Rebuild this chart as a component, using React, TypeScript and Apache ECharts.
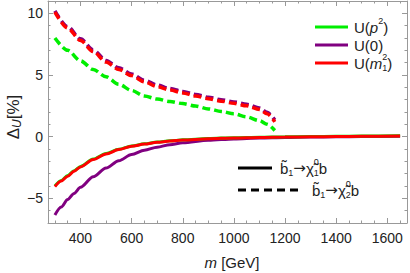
import React, { useEffect, useRef } from 'react';
import * as echarts from 'echarts';

// ---- data ----
const mSolid = [300, 325, 350, 375, 400, 450, 500, 550, 600, 650, 700, 750, 800, 900, 1000, 1100, 1200, 1300, 1400, 1500, 1650];
const solidP2 = [-4.0, -3.55, -3.15, -2.76, -2.41, -1.82, -1.37, -1.03, -0.76, -0.58, -0.44, -0.34, -0.26, -0.15, -0.08, -0.04, -0.01, 0.01, 0.03, 0.05, 0.08];
const solidZero = [-6.35, -5.7, -5.1, -4.6, -4.1, -3.25, -2.55, -1.95, -1.45, -1.1, -0.85, -0.65, -0.5, -0.3, -0.18, -0.1, -0.06, -0.03, -0.01, 0.01, 0.04];
const solidM1 = [-4.05, -3.6, -3.2, -2.8, -2.45, -1.85, -1.4, -1.05, -0.78, -0.6, -0.46, -0.36, -0.28, -0.17, -0.1, -0.06, -0.03, -0.01, 0.01, 0.03, 0.06];

const mDashed = [300, 350, 400, 450, 500, 550, 600, 650, 700, 750, 800, 850, 900, 950, 1000, 1050, 1100, 1130, 1160];
const dashedP2 = [8.0, 7.0, 6.15, 5.45, 4.85, 4.25, 3.75, 3.3, 3.05, 2.85, 2.68, 2.48, 2.25, 2.05, 1.85, 1.6, 1.3, 1.0, 0.5];
const dashedZero = [10.2, 8.92, 7.93, 7.03, 6.18, 5.58, 5.08, 4.58, 4.18, 3.9, 3.67, 3.42, 3.2, 3.0, 2.82, 2.62, 2.33, 1.98, 1.35];
const dashedM1 = [10.1, 8.8, 7.8, 6.9, 6.05, 5.45, 4.95, 4.45, 4.05, 3.78, 3.55, 3.3, 3.08, 2.88, 2.7, 2.5, 2.2, 1.85, 1.2];

const xRange = [273, 1677];
const yRange = [-7, 11];
const xTickStep = 200;

const GREEN = '#00ee00';
const PURPLE = '#800080';
const RED = '#ff0000';
const FRAME = '#999999';
const TXT = '#222222';
const FONT = '"Liberation Sans", Arial, sans-serif';
const ARROW_FONT = '"DejaVu Sans", sans-serif';

let mctx: CanvasRenderingContext2D | null = null;
function fontOf(p: Piece) {
  return `${p.it ? 'italic ' : ''}${p.fs}px ${p.ff || FONT}`;
}
function measure(p: Piece) {
  if (!mctx) mctx = document.createElement('canvas').getContext('2d');
  if (!mctx) return p.t.length * p.fs * 0.55;
  mctx.font = fontOf(p);
  return mctx.measureText(p.t).width;
}

type Piece = { t: string; fs: number; it?: boolean; dy?: number; stack?: boolean; ff?: string; pad?: number };

function layout(pieces: Piece[], x0: number, yc: number, color: string, center = false) {
  const items: { px: number; p: Piece }[] = [];
  let x = 0;
  let lastStart = 0;
  let lastW = 0;
  for (const p of pieces) {
    const w = measure(p) + (p.pad || 0);
    if (p.stack) {
      items.push({ px: lastStart, p });
      lastW = Math.max(lastW, w);
      x = lastStart + lastW;
    } else {
      items.push({ px: x, p });
      lastStart = x;
      lastW = w;
      x += w;
    }
  }
  const off = center ? -x / 2 : 0;
  return items.map(({ px, p }) => ({
    type: 'text',
    x: x0 + px + off,
    y: yc + (p.dy || 0),
    silent: true,
    style: {
      text: p.t,
      font: fontOf(p),
      fill: color,
      textAlign: 'left',
      textVerticalAlign: 'middle',
      align: 'left',
      verticalAlign: 'middle',
    },
  }));
}

const LF = 15; // legend font
const SF = 9; // script font
const SUP = -6;
const SUB = 5;

function decayLabel(k: string): Piece[] {
  return [
    { t: 'b\u0303', fs: LF },
    { t: '1', fs: SF, dy: SUB },
    { t: '\u2192', fs: LF, ff: ARROW_FONT },
    { t: '\u03c7\u0303', fs: LF },
    { t: '0', fs: SF, dy: SUP },
    { t: k, fs: SF, dy: SUB, stack: true },
    { t: 'b', fs: LF },
  ];
}

export default function App() {
  const ref = useRef<HTMLDivElement>(null);
  useEffect(() => {
    if (!ref.current) return;
    const chart = echarts.init(ref.current, undefined, { renderer: 'svg' });
    const zip = (xs: number[], ys: number[]) => xs.map((x, i) => [x, ys[i]]);

    const axisCommon = {
      type: 'value',
      axisLine: { show: true, onZero: false, lineStyle: { color: FRAME, width: 1 } },
      axisTick: { show: true, inside: true, length: 5, lineStyle: { color: FRAME, width: 1 } },
      minorTick: { show: true, length: 2.5, lineStyle: { color: FRAME, width: 1 } },
      splitLine: { show: false },
      minorSplitLine: { show: false },
    };

    const line = (data: number[][], color: string, dashed: boolean, z: number) => ({
      type: 'line',
      data,
      showSymbol: false,
      symbol: 'none',
      smooth: 0.3,
      smoothMonotone: 'x',
      z,
      lineStyle: { color, width: dashed ? 3.5 : 3, type: dashed ? [8, 4] : 'solid', cap: 'butt' },
      silent: true,
    });

    const graphic: any[] = [
      // legend: colours
      { type: 'line', shape: { x1: 315, y1: 27, x2: 348, y2: 27 }, style: { stroke: GREEN, lineWidth: 3 } },
      { type: 'line', shape: { x1: 315, y1: 45, x2: 348, y2: 45 }, style: { stroke: PURPLE, lineWidth: 3 } },
      { type: 'line', shape: { x1: 315, y1: 63, x2: 348, y2: 63 }, style: { stroke: RED, lineWidth: 3 } },
      ...layout([
        { t: 'U(', fs: LF },
        { t: 'p', fs: LF, it: true },
        { t: '2', fs: SF, dy: SUP },
        { t: ')', fs: LF },
      ], 354, 27, TXT),
      ...layout([{ t: 'U(0)', fs: LF }], 354, 45, TXT),
      ...layout([
        { t: 'U(', fs: LF },
        { t: 'm', fs: LF, it: true },
        { t: '2', fs: SF, dy: SUP },
        { t: '1', fs: SF, dy: SUB, stack: true },
        { t: ')', fs: LF },
      ], 354, 63, TXT),
      // legend: line styles
      { type: 'line', shape: { x1: 238, y1: 168, x2: 272, y2: 168 }, style: { stroke: '#000', lineWidth: 3 } },
      { type: 'line', shape: { x1: 238, y1: 190, x2: 302, y2: 190 }, style: { stroke: '#000', lineWidth: 3, lineDash: [8, 5] } },
      ...layout(decayLabel('1'), 280, 168, TXT),
      ...layout(decayLabel('2'), 312, 190, TXT),
      // axis names
      ...layout([
        { t: 'm', fs: 15, it: true },
        { t: ' [GeV]', fs: 15 },
      ], 232, 262, TXT, true),
      {
        type: 'group',
        x: 13,
        y: 117,
        rotation: Math.PI / 2,
        children: layout([
          { t: '\u0394', fs: 17 },
          { t: 'U', fs: 12, it: true, dy: 4 },
          { t: '[%]', fs: 17 },
        ], 0, 0, TXT, true),
      },
    ];

    chart.setOption({
      animation: false,
      grid: { left: 48, right: 1, top: 1, bottom: 50, containLabel: false },
      xAxis: [
        {
          ...axisCommon,
          min: xRange[0],
          max: xRange[1],
          splitNumber: 7,
          position: 'bottom',
          minorTick: { ...axisCommon.minorTick, splitNumber: 4 },
          axisLabel: {
            color: TXT,
            fontSize: 14,
            fontFamily: FONT,
            margin: 8,
            formatter: (v: number) => (Math.abs(v % xTickStep) < 1e-6 ? String(v) : ''),
          },
        },
        {
          ...axisCommon,
          min: xRange[0],
          max: xRange[1],
          splitNumber: 7,
          position: 'top',
          minorTick: { ...axisCommon.minorTick, splitNumber: 4 },
          axisLabel: { show: false },
        },
      ],
      yAxis: [
        {
          ...axisCommon,
          min: yRange[0],
          max: yRange[1],
          splitNumber: 4,
          position: 'left',
          minorTick: { ...axisCommon.minorTick, splitNumber: 5 },
          axisLabel: {
            color: TXT,
            fontSize: 14,
            fontFamily: FONT,
            margin: 5,
            formatter: (v: number) => (Math.abs(v % 5) < 1e-6 ? (v < 0 ? '\u2212' + Math.abs(v) : String(v)) : ''),
          },
        },
        {
          ...axisCommon,
          min: yRange[0],
          max: yRange[1],
          splitNumber: 4,
          position: 'right',
          minorTick: { ...axisCommon.minorTick, splitNumber: 5 },
          axisLabel: { show: false },
        },
      ],
      series: [
        line(zip(mDashed, dashedP2), GREEN, true, 2),
        line(zip(mDashed, dashedZero), PURPLE, true, 3),
        line(zip(mDashed, dashedM1), RED, true, 4),
        line(zip(mSolid, solidZero), PURPLE, false, 5),
        line(zip(mSolid, solidP2), GREEN, false, 6),
        line(zip(mSolid, solidM1), RED, false, 7),
      ],
      graphic,
    });
    return () => chart.dispose();
  }, []);
  return <div ref={ref} style={{ position: 'absolute', left: 0, top: 0, width: 410, height: 273 }} />;
}
